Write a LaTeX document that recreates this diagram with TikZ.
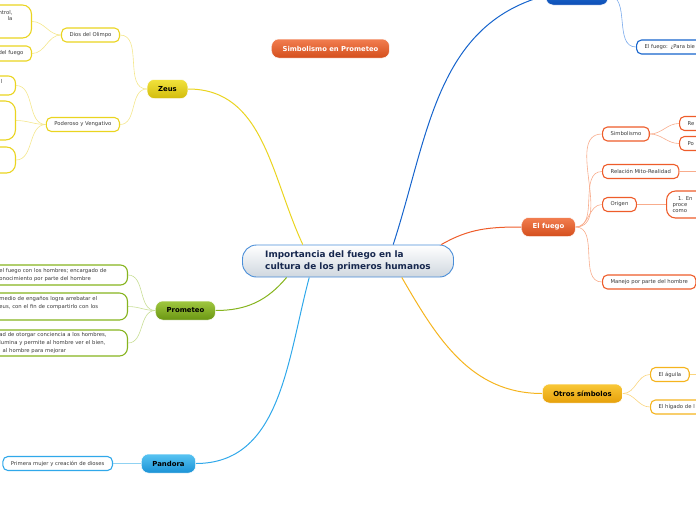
\documentclass[tikz,border=0pt]{standalone}
\usepackage{fontspec}
\setmainfont{DejaVu Sans}
\definecolor{centraltop}{HTML}{FFFFFF}
\definecolor{centralbot}{HTML}{CFD7DF}
\definecolor{centralline}{HTML}{4A8ED8}
\definecolor{centraltext}{HTML}{17284E}
\definecolor{zeustop}{HTML}{F2E23C}
\definecolor{zeusbot}{HTML}{D2BC0C}
\definecolor{zeusline}{HTML}{EAD420}
\definecolor{zeuslight}{HTML}{F4E78C}
\definecolor{fuegotop}{HTML}{F27E50}
\definecolor{fuegobot}{HTML}{D44E1C}
\definecolor{fuegoline}{HTML}{EE5C2A}
\definecolor{fuegolight}{HTML}{F8AC8C}
\definecolor{promtop}{HTML}{A0C840}
\definecolor{prombot}{HTML}{6A9612}
\definecolor{promline}{HTML}{86B41E}
\definecolor{promlight}{HTML}{C8DE96}
\definecolor{pandtop}{HTML}{58C4F2}
\definecolor{pandbot}{HTML}{1A92D6}
\definecolor{pandline}{HTML}{30A8EA}
\definecolor{pandlight}{HTML}{90D2F2}
\definecolor{bluetop}{HTML}{2A7ADA}
\definecolor{bluebot}{HTML}{0C4EB6}
\definecolor{blueline}{HTML}{1664CC}
\definecolor{bluelight}{HTML}{7AAAEC}
\definecolor{otrostop}{HTML}{F9C838}
\definecolor{otrosbot}{HTML}{E6A00A}
\definecolor{otrosline}{HTML}{F5B41E}
\definecolor{otroslight}{HTML}{FAD57E}
\definecolor{subtext}{HTML}{3A3A3A}
\tikzset{
  centraltopic/.style={
    shape = rectangle,
    draw = centralline,
    line width = 0.9pt,
    top color = centraltop,
    bottom color = centralbot,
    rounded corners = 14pt,
    minimum width = 211pt,
    minimum height = 32pt,
    inner xsep = 18pt,
    align = left,
    text = centraltext,
    font = \fontsize{8.9}{11.5}\selectfont\bfseries
  },
  maintopic/.style={
    shape = rectangle,
    draw = white,
    line width = 0.5pt,
    rounded corners = 7pt,
    minimum height = 19pt,
    inner xsep = 11pt,
    inner ysep = 2pt,
    font = \fontsize{6.9}{8}\selectfont\bfseries
  },
  subtopic/.style={
    shape = rectangle,
    fill = white,
    line width = 1.1pt,
    rounded corners = 5pt,
    minimum height = 14pt,
    inner xsep = 8pt,
    inner ysep = 2pt,
    text = subtext,
    font = \fontsize{5.3}{7.8}\selectfont
  },
  mainlink/.style={line width = 1pt},
  sublink/.style={line width = 0.6pt}
}
\begin{document}
\begin{tikzpicture}[x=1pt,y=-1pt]
        \useasboundingbox (0,0) rectangle (696,520);
        \clip (0,0) rectangle (696,520);
        % tema central y titulo
        \node[centraltopic] (central) at (348,261) {Importancia del fuego en la\\cultura de los primeros humanos};
        \node[maintopic, top color=fuegotop, bottom color=fuegobot, text=white, font=\fontsize{6.8}{8}\selectfont\bfseries] (titulo) at (330.5,48.5) {Simbolismo en Prometeo};
        % ramas principales
        \node[maintopic, top color=zeustop, bottom color=zeusbot] (zeus) at (167.5,89) {Zeus};
        \node[maintopic, top color=promtop, bottom color=prombot] (prometeo) at (185.5,310.5) {Prometeo};
        \node[maintopic, top color=pandtop, bottom color=pandbot] (pandora) at (168.5,463.5) {Pandora};
        \node[maintopic, top color=bluetop, bottom color=bluebot, minimum width=62pt] (superior) at (577,-4.5) {};
        \node[maintopic, top color=fuegotop, bottom color=fuegobot, text=white] (fuego) at (548.5,227) {El fuego};
        \node[maintopic, top color=otrostop, bottom color=otrosbot] (otros) at (582.5,393.5) {Otros símbolos};
        % Zeus
        \node[subtopic, draw=zeusline, anchor=east] (dios) at (120,35) {Dios del Olimpo};
        \node[subtopic, draw=zeusline, anchor=east] (poderoso) at (120,124.5) {Poderoso y Vengativo};
        \node[subtopic, draw=zeusline, anchor=east, align=right, inner xsep=19pt, minimum height=33pt, rounded corners=9pt, font=\fontsize{5.3}{6.2}\selectfont] (zeusa) at (32,21.5) {ntrol,\\la\\\mbox{}\\\mbox{}};
        \node[subtopic, draw=zeusline, anchor=east, minimum height=15pt] (zeusb) at (32,53.5) {del fuego};
        \node[subtopic, draw=zeusline, anchor=east, align=right, inner xsep=13pt, minimum height=19pt, rounded corners=7pt] (poda) at (16,85.5) {l\\\mbox{}};
        \node[subtopic, draw=zeusline, anchor=east, minimum width=40pt, minimum height=39pt, rounded corners=10pt] (podb) at (16,120.5) {};
        \node[subtopic, draw=zeusline, anchor=east, minimum width=40pt, minimum height=26pt, rounded corners=9pt] (podc) at (16,160) {};
        % Prometeo
        \node[subtopic, draw=promline, anchor=east, text width=120pt, align=left, minimum height=20pt, rounded corners=7pt] (proma) at (128,275) {el fuego con los hombres; encargado de\\onocimiento por parte del hombre};
        \node[subtopic, draw=promline, anchor=east, text width=120pt, align=left, minimum height=27pt, rounded corners=8pt] (promb) at (128,306.5) {medio de engaños logra arrebatar el\\eus, con el fin de compartirlo con los\\\mbox{}};
        \node[subtopic, draw=promline, anchor=east, text width=120pt, align=left, minimum height=26pt, rounded corners=8pt] (promc) at (128,343) {ad de otorgar conciencia a los hombres,\\lumina y permite al hombre ver el bien,\\\hphantom{a}al hombre para mejorar};
        % Pandora
        \node[subtopic, draw=pandline, anchor=east] (primera) at (113,463.5) {Primera mujer y creación de dioses};
        % rama azul
        \node[subtopic, draw=blueline, anchor=west, text width=64pt, align=left] (bien) at (636,47) {El fuego: ¿Para bie};
        % El fuego
        \node[subtopic, draw=fuegoline, anchor=west] (simbolismo) at (602,134) {Simbolismo};
        \node[subtopic, draw=fuegoline, anchor=west, text width=26pt, align=left] (rep) at (679,123.5) {Re};
        \node[subtopic, draw=fuegoline, anchor=west, text width=26pt, align=left] (pod) at (679,143.5) {Po};
        \node[subtopic, draw=fuegoline, anchor=west] (relacion) at (602,171.5) {Relación Mito-Realidad};
        \node[subtopic, draw=fuegoline, anchor=west] (origen) at (602,204.5) {Origen};
        \node[subtopic, draw=fuegoline, anchor=west, text width=34pt, align=left, inner xsep=6pt, minimum height=27pt, rounded corners=9pt, font=\fontsize{5.3}{6.3}\selectfont] (enp) at (666,204.5) {\hphantom{pr}1. En\\proce\\como};
        \node[subtopic, draw=fuegoline, anchor=west] (manejo) at (602,282) {Manejo por parte del hombre};
        \coordinate (relacionsig) at (730,171.5);
        % Otros simbolos
        \node[subtopic, draw=otrosline, anchor=west] (aguila) at (650,374.5) {El águila};
        \node[subtopic, draw=otrosline, anchor=west, text width=48pt, align=left] (higado) at (650,407) {El hígado de l};
        \coordinate (aguilasig) at (730,374.5);
        % conexiones principales
        \draw[mainlink, zeusline] (central.160) to[out=115,in=0] (zeus.east);
        \draw[mainlink, blueline] (central.20) to[out=72,in=195] (superior.west);
        \draw[mainlink, fuegoline] (central.10) to[out=30,in=180] (fuego.west);
        \draw[mainlink, otrosline] (central.343) to[out=-60,in=180] (otros.west);
        \draw[mainlink, promline] (central.195) to[out=-130,in=0] (prometeo.east);
        \draw[mainlink, pandline] (central.203) to[out=-105,in=0] (pandora.east);
        % conexiones secundarias
        \foreach \c in {dios,poderoso}
            \draw[sublink, zeuslight] (zeus.west) to[out=180,in=0] (\c.east);
        \foreach \c in {zeusa,zeusb}
            \draw[sublink, zeuslight] (dios.west) to[out=180,in=0] (\c.east);
        \foreach \c in {poda,podb,podc}
            \draw[sublink, zeuslight] (poderoso.west) to[out=180,in=0] (\c.east);
        \foreach \c in {proma,promb,promc}
            \draw[sublink, promlight] (prometeo.west) to[out=180,in=0] (\c.east);
        \draw[sublink, pandlight] (pandora.west) -- (primera.east);
        \draw[sublink, bluelight] (superior.east) to[out=0,in=180] (bien.west);
        \foreach \c in {simbolismo,relacion,origen,manejo}
            \draw[sublink, fuegolight] (fuego.east) to[out=0,in=180] (\c.west);
        \foreach \c in {rep,pod}
            \draw[sublink, fuegolight] (simbolismo.east) to[out=0,in=180] (\c.west);
        \draw[sublink, fuegolight] (origen.east) -- (enp.west);
        \draw[sublink, fuegolight] (relacion.east) -- (relacionsig);
        \foreach \c in {aguila,higado}
            \draw[sublink, otroslight] (otros.east) to[out=0,in=180] (\c.west);
        \draw[sublink, otroslight] (aguila.east) -- (aguilasig);
    \end{tikzpicture}
\end{document}
